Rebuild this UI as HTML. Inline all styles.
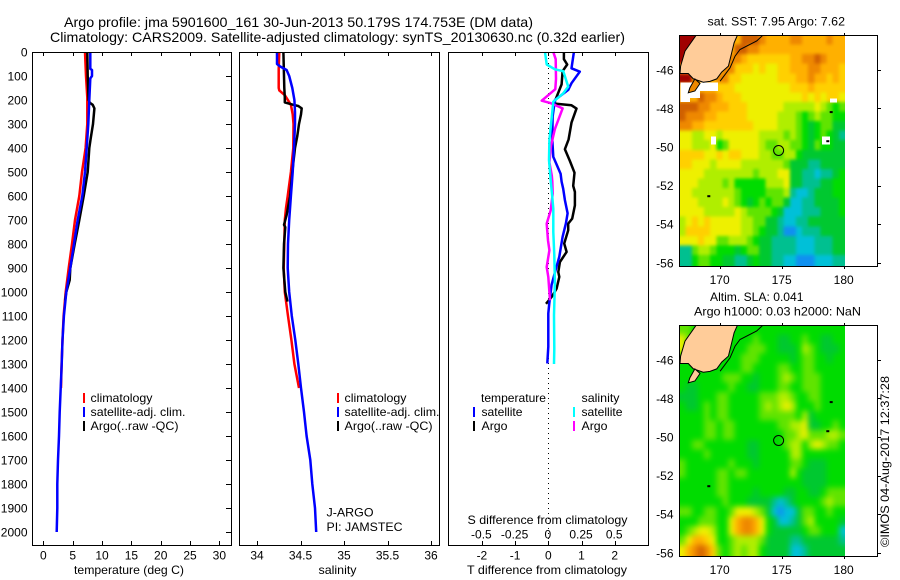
<!DOCTYPE html>
<html lang="en">
<head>
<meta charset="utf-8">
<title>Argo profile 5901600_161</title>
<style>
html,body{margin:0;padding:0;background:#fff;}
svg{display:block;}
text{font-family:"Liberation Sans",sans-serif;font-size:12px;fill:#000;}
</style>
</head>
<body>
<svg id="chart" xmlns="http://www.w3.org/2000/svg" width="900" height="580" viewBox="0 0 900 580">
  <defs>
    <clipPath id="map-clip-top"><rect x="679.5" y="35.5" width="165.5" height="231"/></clipPath>
    <clipPath id="map-clip-bottom"><rect x="679.5" y="325.5" width="165.5" height="231"/></clipPath>
    <filter id="soft-sst" filterUnits="userSpaceOnUse" x="660" y="20" width="210" height="260" color-interpolation-filters="sRGB">
      <feGaussianBlur stdDeviation="1.5"/>
      <feComponentTransfer><feFuncA type="linear" slope="4"/></feComponentTransfer>
    </filter>
    <filter id="soft-sla" filterUnits="userSpaceOnUse" x="660" y="310" width="210" height="260" color-interpolation-filters="sRGB">
      <feGaussianBlur stdDeviation="3"/>
      <feComponentTransfer><feFuncA type="linear" slope="4"/></feComponentTransfer>
    </filter>
  </defs>
  <rect x="0" y="0" width="900" height="580" fill="#fff"/>
  <text x="64" y="27" font-size="14" style="font-size:14px" textLength="469" lengthAdjust="spacingAndGlyphs">Argo profile: jma 5901600_161 30-Jun-2013 50.179S 174.753E (DM data)</text>
  <text x="50" y="42" style="font-size:14px" textLength="575" lengthAdjust="spacingAndGlyphs">Climatology: CARS2009. Satellite-adjusted climatology: synTS_20130630.nc (0.32d earlier)</text>
  <text x="707.5" y="25.5" textLength="137.5" lengthAdjust="spacingAndGlyphs">sat. SST: 7.95 Argo: 7.62</text>
  <text x="710" y="301" textLength="93.5" lengthAdjust="spacingAndGlyphs">Altim. SLA: 0.041</text>
  <text x="694" y="315.5" textLength="167" lengthAdjust="spacingAndGlyphs">Argo h1000: 0.03 h2000: NaN</text>

  <text x="74" y="574" textLength="110" lengthAdjust="spacingAndGlyphs">temperature (deg C)</text>
  <text x="318.5" y="574" textLength="38" lengthAdjust="spacingAndGlyphs">salinity</text>
  <text x="467" y="574" textLength="160" lengthAdjust="spacingAndGlyphs">T difference from climatology</text>
  <text x="467.5" y="524" textLength="160" lengthAdjust="spacingAndGlyphs">S difference from climatology</text>

  <g>
    <rect x="83" y="393" width="2" height="10" fill="#f00"/>
    <text x="90.5" y="402" textLength="62" lengthAdjust="spacingAndGlyphs">climatology</text>
    <rect x="83" y="407" width="2" height="10" fill="#00f"/>
    <text x="90.5" y="416" textLength="95" lengthAdjust="spacingAndGlyphs">satellite-adj. clim.</text>
    <rect x="83" y="421" width="2" height="10" fill="#000"/>
    <text x="90.5" y="430" textLength="88" lengthAdjust="spacingAndGlyphs">Argo(..raw -QC)</text>
  </g>
  <g>
    <rect x="337" y="393" width="2" height="10" fill="#f00"/>
    <text x="344.5" y="402" textLength="62" lengthAdjust="spacingAndGlyphs">climatology</text>
    <rect x="337" y="407" width="2" height="10" fill="#00f"/>
    <text x="344.5" y="416" textLength="95" lengthAdjust="spacingAndGlyphs">satellite-adj. clim.</text>
    <rect x="337" y="421" width="2" height="10" fill="#000"/>
    <text x="344.5" y="430" textLength="88" lengthAdjust="spacingAndGlyphs">Argo(..raw -QC)</text>
  </g>
  <g>
    <text x="481" y="402" textLength="65" lengthAdjust="spacingAndGlyphs">temperature</text>
    <rect x="473" y="407" width="2" height="10" fill="#00f"/>
    <text x="481.5" y="416" textLength="41" lengthAdjust="spacingAndGlyphs">satellite</text>
    <rect x="473" y="421" width="2" height="10" fill="#000"/>
    <text x="481.5" y="430" textLength="26" lengthAdjust="spacingAndGlyphs">Argo</text>
    <text x="581.5" y="402" textLength="38" lengthAdjust="spacingAndGlyphs">salinity</text>
    <rect x="573" y="407" width="2" height="10" fill="#0ff"/>
    <text x="581.5" y="416" textLength="41" lengthAdjust="spacingAndGlyphs">satellite</text>
    <rect x="573" y="421" width="2" height="10" fill="#f0f"/>
    <text x="581.5" y="430" textLength="26" lengthAdjust="spacingAndGlyphs">Argo</text>
  </g>
  <text x="326.5" y="516.5" textLength="47" lengthAdjust="spacingAndGlyphs">J-ARGO</text>
  <text x="326.5" y="531" textLength="76" lengthAdjust="spacingAndGlyphs">PI: JAMSTEC</text>
  <text transform="translate(889,547) rotate(-90)" textLength="171" lengthAdjust="spacingAndGlyphs">©IMOS 04-Aug-2017 12:37:28</text>
</svg>
<script>
/* ---------- profile data (depth in dbar) ---------- */
const tempTicks = [0,5,10,15,20,25,30];
const salTicks = [34,34.5,35,35.5,36];
const salTickLabels = ['34','34.5','35','35.5','36'];
const depthTicks = [0,100,200,300,400,500,600,700,800,900,1000,1100,1200,1300,1400,1500,1600,1700,1800,1900,2000];
const tDiffTicks = [-2,-1,0,1,2];
const sDiffTicks = [-0.5,-0.25,0,0.25,0.5];
const sDiffTickLabels = ['-0.5','-0.25','0','0.25','0.5'];

const climTempDepth = [0,100,190,300,400,500,600,700,800,900,1000,1100,1200,1300,1400];
const climTemp = [7.09,7.26,7.49,7.49,7.2,6.58,6.12,5.39,4.88,4.31,3.8,3.45,3.25,3.1,3.0];
const satTempDepth = [0,70,75,100,110,200,300,400,500,600,700,800,900,1000,1100,1200,1300,1400,1500,1600,1700,1800,1900,2000];
const satTemp = [8.0,8.0,8.28,8.28,8.0,7.83,7.66,7.38,7.09,6.63,5.85,5.22,4.59,3.9,3.5,3.25,3.12,2.95,2.78,2.66,2.49,2.37,2.37,2.27];
const argoTempDepth = [0,100,200,212,220,235,300,360,400,500,600,700,800,900,950,1000,1035];
const argoTemp = [7.49,7.55,7.7,7.95,8.4,8.7,8.46,8.06,7.83,7.55,6.87,6.12,5.34,4.59,4.48,3.9,3.7];

const climSalDepth = [0,70,150,160,180,220,260,300,400,500,600,650,700,800,900,1000,1100,1200,1300,1400];
const climSal = [34.256,34.249,34.249,34.256,34.32,34.39,34.41,34.42,34.417,34.39,34.353,34.333,34.32,34.314,34.307,34.32,34.356,34.395,34.43,34.483];
const satSalDepth = [0,50,60,75,100,150,200,250,300,400,500,600,700,800,900,1000,1100,1200,1300,1400,1500,1600,1700,1800,1900,2000];
const satSal = [34.23,34.23,34.264,34.34,34.37,34.406,34.43,34.437,34.437,34.425,34.41,34.39,34.37,34.356,34.353,34.37,34.4,34.44,34.475,34.506,34.54,34.57,34.613,34.636,34.667,34.68];
const argoSalDepth = [0,150,190,210,220,225,235,260,300,350,400,500,600,680,720,730,800,900,1000,1040];
const argoSal = [34.303,34.314,34.32,34.32,34.417,34.475,34.514,34.506,34.483,34.463,34.437,34.406,34.38,34.34,34.31,34.325,34.31,34.303,34.325,34.35];

const satTDiffDepth = [0,68,82,130,158,200,270,367,437,507,540,570,617,672,714,770,853,908,970,1047,1089,1228,1298];
const satTDiff = [0.77,0.7,0.95,0.7,0.6,0.2,0.13,0.12,0.15,0.37,0.4,0.45,0.5,0.58,0.53,0.43,0.33,0.22,0.1,0.03,0,0,-0.03];
const argoTDiffDepth = [0,30,52,80,135,205,215,222,236,294,364,405,454,503,558,583,639,694,715,743,798,833,875,917,937,986,1021,1049];
const argoTDiff = [0.47,0.47,0.57,0.43,0.4,0.2,0.2,0.7,0.85,0.7,0.61,0.5,0.65,0.79,0.75,0.8,0.8,0.72,0.6,0.6,0.48,0.55,0.35,0.3,0.33,0.25,0.1,-0.07];
const satSDiffDepth = [0,52,72,80,144,172,207,270,367,450,535,583,653,750,847,958,1097,1236,1300];
const satSDiff = [-0.025,-0.012,0.05,0.113,0.15,0.113,0.038,0.026,0.008,0.005,0.018,0.026,0.038,0.038,0.045,0.05,0.043,0.045,0.043];
const argoSDiffDepth = [0,30,113,155,203,212,235,321,390,460,515,540,590,660,715,785,826,896,937,1035];
const argoSDiff = [0.038,0.056,0.058,0.053,-0.05,0.013,0.108,0.05,0.02,0.008,0.026,0.03,0.033,0.018,-0.012,-0.002,0.008,-0.012,0,0.013];

/* ---------- map data: colour-scale level per half-degree cell ---------- */
const mapLonTicks = [170,175,180];
const mapLatTicks = [46,48,50,52,54,56];
const sstRows = [
[12,12,12,9,9,9,9,9,9,9,11,11,11,10,9,9,9,9,10,10,9,9,9,9,10,9,9],
[12,12,9,9,9,9,9,9,9,11,11,10,10,9,9,9,9,9,9,9,9,9,9,9,9,9,9],
[12,9,9,9,9,9,9,9,10,10,9,8,8,8,8,8,8,8,9,9,10,10,11,10,9,9,9],
[9,9,9,9,9,9,9,10,10,8,8,8,7,8,7,7,8,8,9,9,9,10,10,9,9,9,8],
[12,12,9,9,9,9,10,10,8,8,7,7,7,7,7,7,8,8,8,9,9,10,9,9,8,9,8],
[9,9,9,9,9,9,8,8,8,7,7,7,7,7,7,7,7,7,8,8,8,9,8,8,8,8,8],
[9,9,9,11,10,10,9,8,8,8,7,7,7,7,7,7,7,7,7,7,8,7,8,7,8,8,7],
[11,11,11,10,10,9,9,9,8,8,8,7,7,7,7,7,7,6,6,6,6,6,7,6,5,4,5],
[11,10,10,10,9,9,8,8,8,8,8,7,7,7,7,7,6,6,6,5,4,5,6,5,5,4,4],
[10,10,9,9,8,8,8,8,8,8,8,8,7,7,7,7,6,6,6,5,4,3,4,5,5,3,3],
[7,7,6,6,7,7,6,7,7,7,7,7,7,6,6,6,6,5,6,5,4,3,4,5,4,3,2],
[7,7,6,6,6,7,4,5,7,7,7,7,7,6,5,5,6,6,5,5,4,3,5,4,4,3,3],
[8,8,8,8,7,7,8,7,8,8,7,7,7,6,6,5,5,6,6,4,3,3,3,3,3,3,3],
[8,8,7,7,7,6,7,7,7,7,6,6,6,6,6,6,6,5,3,3,3,2,2,3,3,3,3],
[7,7,7,7,6,6,6,6,6,6,6,6,5,6,6,6,7,7,3,3,2,2,1,2,2,3,4],
[7,7,7,6,6,6,6,5,6,4,4,4,4,4,6,6,6,7,3,3,2,2,2,3,3,4,4],
[7,7,6,6,6,6,6,6,6,5,4,4,4,4,5,5,5,6,2,1,1,2,3,3,3,4,4],
[7,7,7,6,6,6,6,7,6,5,4,3,4,5,4,5,5,3,1,1,2,2,3,3,3,3,4],
[7,7,7,7,6,6,6,6,6,7,6,5,5,5,5,4,3,1,1,1,2,2,2,3,3,3,4],
[6,7,8,7,8,7,7,7,7,7,6,6,5,5,3,3,2,1,1,2,2,3,3,3,3,3,3],
[6,8,8,8,8,7,7,7,7,7,6,6,5,4,3,3,2,0,0,1,2,2,2,3,3,3,3],
[7,7,7,8,7,7,5,5,6,6,6,5,4,3,3,2,2,2,2,1,1,1,2,2,2,3,3],
[2,2,5,6,6,5,4,4,4,3,4,5,5,3,3,2,2,2,2,1,1,1,2,2,2,3,3],
[2,2,4,5,5,4,4,3,3,2,2,3,4,3,3,2,2,1,1,0,0,0,1,1,1,2,2]
];
const slaRows = [
[5,5,4,4,4,4,4,4,4,4,4,4,4,4,4,4,4,4,4,4,4,4,4,4,4,4,4],
[7,5,4,4,4,4,4,4,4,4,4,4,5,4,4,4,3,3,4,4,5,4,4,3,3,4,4],
[7,5,4,4,4,4,4,4,4,4,4,5,5,5,4,4,3,3,3,4,6,5,4,3,3,3,4],
[4,4,4,4,4,4,4,4,4,4,5,5,5,4,4,4,4,4,3,4,5,5,4,4,3,4,4],
[4,4,4,4,4,4,4,4,4,4,5,5,4,4,4,4,5,5,4,4,5,5,4,4,4,4,4],
[4,4,4,4,4,4,4,5,5,5,4,4,3,4,4,4,5,6,5,4,5,5,5,4,4,4,4],
[4,3,3,4,4,4,4,4,5,4,4,3,3,4,4,4,5,5,4,4,5,5,5,4,4,4,4],
[3,3,3,4,4,4,5,5,4,4,4,4,4,5,5,5,6,6,5,4,4,5,5,4,4,4,4],
[4,3,3,4,5,4,5,5,4,4,4,4,4,5,6,5,6,7,6,4,4,4,5,4,4,4,4],
[4,4,4,4,5,4,5,5,4,4,4,4,4,5,5,5,5,5,5,4,6,3,4,4,4,4,4],
[4,4,4,4,5,5,4,5,5,4,4,4,4,4,4,4,5,5,6,6,7,3,3,4,4,5,4],
[4,4,4,4,5,5,4,5,5,4,4,4,4,4,4,4,4,5,5,6,7,5,5,5,6,6,5],
[4,4,5,5,4,4,4,4,4,4,4,3,3,4,4,4,4,5,6,6,4,6,7,6,5,5,4],
[4,4,4,4,5,4,4,4,4,4,4,3,3,4,4,4,4,4,6,6,4,4,4,4,4,4,4],
[5,4,4,4,4,4,4,4,5,4,4,4,3,4,4,4,4,4,5,5,4,3,3,3,4,4,4],
[5,4,4,4,4,4,5,5,4,5,5,4,4,4,4,4,4,4,6,4,3,3,3,3,4,4,4],
[4,4,4,4,4,4,5,5,4,4,4,4,4,4,4,4,4,4,4,4,3,3,3,3,4,4,4],
[4,4,4,4,4,4,5,5,4,4,4,4,3,4,4,4,4,3,3,4,4,3,3,4,5,5,5],
[4,4,4,4,4,4,4,5,4,4,4,3,3,3,3,2,1,2,3,4,4,4,4,5,6,5,5],
[5,5,4,4,5,5,4,4,5,7,7,7,6,5,3,1,0,1,1,3,5,5,4,4,5,4,4],
[4,4,4,5,5,5,4,4,7,9,10,10,9,7,4,3,1,1,2,3,5,6,4,4,4,4,3],
[4,5,6,7,7,6,4,4,7,9,10,10,9,7,4,3,3,3,3,3,4,5,5,4,4,4,1],
[5,7,9,9,8,7,4,4,5,6,6,6,6,5,3,3,3,3,2,2,3,3,3,3,3,3,2],
[7,9,10,11,10,8,5,4,5,6,5,6,6,4,3,3,3,3,1,1,2,3,3,3,3,3,3]
];
const levelColors = ['#1090f0','#00c0d8','#00c090','#00c830','#00dc00','#60e400','#b0ee00','#eef000','#ffd000','#ffb000','#ee8800','#d06000','#a00000'];
const missingLon = [169.3,178.25,178.9,166.85,166.85,166.85];
const missingLat = [49.46,49.46,47.49,46.67,47.11,47.46];
const missingLonSize = [0.4,0.65,0.56,3.0,1.56,0.75];
const missingLatSize = [0.41,0.41,0.21,0.44,0.35,0.22];
const landLon = [168.09,167.2,166.85,166.8,167.47,167.88,168.68,169.22,169.76,170.16,170.7,170.97,171.16,171.42];
const landLat = [44.19,45.03,45.81,46.19,46.19,46.47,46.64,46.6,46.47,46.12,45.81,45.12,44.6,44.19];
const stewartLon = [167.6,168.0,168.41,168.0,167.47];
const stewartLat = [46.93,46.47,46.71,47.1,47.19];
const shelfLon = [173.47,172.98,171.64,171.24,170.83,170.03];
const shelfLat = [44.22,44.51,44.95,45.29,45.9,46.59];
const islandLon = [169.16,178.76,179.03];
const islandLat = [52.55,49.7,48.19];
const profileLon = 174.753;
const profileLat = 50.179;

/* ---------- axis functions ---------- */
const svgNS = 'http://www.w3.org/2000/svg';
const root = document.getElementById('chart');
function yDepth(d){ return 52 + 0.24*d; }
function xTemp(t){ return 43.4 + 5.865*t; }
function xSal(s){ return 257 + 87*(s-34); }
function xTDiff(t){ return 548.3 + 33.2*t; }
function xSDiff(s){ return 548.3 + 132.8*s; }
function xLon(lon){ return 719.7 + 12.4*(lon-170); }
function yLat(lat,top){ return top + 34.8 + 19.3*(lat-46); }

function make(tag, parent){
  const el = document.createElementNS(svgNS, tag);
  parent.appendChild(el);
  return el;
}
function addGroup(name, parent){
  const g = make('g', parent);
  
  
  return g;
}
function addLabel(parent, name, str, x, y, anchor){
  const t = make('text', parent);
  
  
  t.setAttribute('x', x);
  t.setAttribute('y', y);
  t.setAttribute('text-anchor', anchor);
  t.textContent = str;
  return t;
}
function addTick(parent, name, x1, y1, x2, y2){
  const l = make('line', parent);
  
  
  l.setAttribute('x1', x1);
  l.setAttribute('y1', y1);
  l.setAttribute('x2', x2);
  l.setAttribute('y2', y2);
  l.setAttribute('stroke', '#000');
  l.setAttribute('shape-rendering', 'crispEdges');
}
function addBox(parent, name, x, y, w, h){
  const r = make('rect', parent);
  
  
  r.setAttribute('x', x);
  r.setAttribute('y', y);
  r.setAttribute('width', w);
  r.setAttribute('height', h);
  r.setAttribute('fill', 'none');
  r.setAttribute('stroke', '#000');
  r.setAttribute('shape-rendering', 'crispEdges');
}
function addSeries(parent, name, depths, values, xFn, color){
  const p = make('polyline', parent);
  
  
  p.setAttribute('points', depths.map(function(d,i){ return xFn(values[i]).toFixed(1)+','+yDepth(d).toFixed(1); }).join(' '));
  p.setAttribute('fill', 'none');
  p.setAttribute('stroke', color);
  p.setAttribute('stroke-width', '2.5');
  p.setAttribute('stroke-linejoin', 'round');
}

/* ---------- temperature panel ---------- */
const panelT = addGroup('temperature-panel', root);
addSeries(panelT, 'temperature-climatology-line', climTempDepth, climTemp, xTemp, '#f00');
addSeries(panelT, 'temperature-argo-line', argoTempDepth, argoTemp, xTemp, '#000');
addSeries(panelT, 'temperature-satellite-line', satTempDepth, satTemp, xTemp, '#00f');
addBox(panelT, 'temperature-axes-frame', 32.5, 52.5, 199, 493);
tempTicks.forEach(function(v){
  const x = Math.round(xTemp(v))+0.5;
  addTick(panelT, 'temperature-tick-top', x, 52, x, 56);
  addTick(panelT, 'temperature-tick-bottom', x, 541, x, 545);
  addLabel(panelT, 'temperature-tick-label', String(v), xTemp(v), 559.5, 'middle');
});
depthTicks.forEach(function(v){
  const y = Math.round(yDepth(v))+0.5;
  addTick(panelT, 'depth-tick', 226, y, 231, y);
  addLabel(panelT, 'depth-tick-label', String(v), 27.5, yDepth(v)+4.5, 'end');
});

/* ---------- salinity panel ---------- */
const panelS = addGroup('salinity-panel', root);
addSeries(panelS, 'salinity-climatology-line', climSalDepth, climSal, xSal, '#f00');
addSeries(panelS, 'salinity-argo-line', argoSalDepth, argoSal, xSal, '#000');
addSeries(panelS, 'salinity-satellite-line', satSalDepth, satSal, xSal, '#00f');
addBox(panelS, 'salinity-axes-frame', 239.5, 52.5, 200, 493);
salTicks.forEach(function(v,i){
  const x = Math.round(xSal(v))+0.5;
  addTick(panelS, 'salinity-tick-top', x, 52, x, 56);
  addTick(panelS, 'salinity-tick-bottom', x, 541, x, 545);
  addLabel(panelS, 'salinity-tick-label', salTickLabels[i], xSal(v), 559.5, 'middle');
});

/* ---------- difference panel ---------- */
const panelD = addGroup('difference-panel', root);
const zeroLine = make('line', panelD);


zeroLine.setAttribute('x1', 548.5);
zeroLine.setAttribute('y1', 53);
zeroLine.setAttribute('x2', 548.5);
zeroLine.setAttribute('y2', 545);
zeroLine.setAttribute('stroke', '#000');
zeroLine.setAttribute('stroke-dasharray', '1 4');
zeroLine.setAttribute('shape-rendering', 'crispEdges');
addSeries(panelD, 'difference-t-argo-line', argoTDiffDepth, argoTDiff, xTDiff, '#000');
addSeries(panelD, 'difference-t-satellite-line', satTDiffDepth, satTDiff, xTDiff, '#00f');
addSeries(panelD, 'difference-s-argo-line', argoSDiffDepth, argoSDiff, xSDiff, '#f0f');
addSeries(panelD, 'difference-s-satellite-line', satSDiffDepth, satSDiff, xSDiff, '#0ff');
addBox(panelD, 'difference-axes-frame', 448.5, 52.5, 200, 493);
tDiffTicks.forEach(function(v){
  const x = Math.round(xTDiff(v))+0.5;
  addTick(panelD, 'difference-tick-top', x, 52, x, 56);
  addTick(panelD, 'difference-tick-bottom', x, 541, x, 545);
  addLabel(panelD, 't-difference-tick-label', String(v), xTDiff(v), 559.5, 'middle');
});
sDiffTicks.forEach(function(v,i){
  addLabel(panelD, 's-difference-tick-label', sDiffTickLabels[i], xSDiff(v)-0.5, 538.5, 'middle');
});

/* ---------- maps ---------- */
const dLon = 0.494;
const dLat = 0.4955;
const lonStart = 166.76;
const latStart = 44.197;
function drawMap(name, rows, top, stewartFill, clipId, filterId, showMissing){
  const g = addGroup(name, root);
  const clip = addGroup(name+'-data-area', g);
  clip.setAttribute('clip-path', 'url(#'+clipId+')');
  const field = addGroup(name+'-cells', clip);
  field.setAttribute('filter', 'url(#'+filterId+')');
  rows.forEach(function(row,j){
    row.forEach(function(level,i){
      if(level === null) return;
      const x0 = xLon(lonStart + i*dLon);
      const x1 = xLon(lonStart + (i+1)*dLon);
      const y0 = yLat(latStart + j*dLat, top);
      const y1 = yLat(latStart + (j+1)*dLat, top);
      const c = make('rect', field);
      
      
      c.setAttribute('x', x0.toFixed(2));
      c.setAttribute('y', y0.toFixed(2));
      c.setAttribute('width', (x1-x0+0.3).toFixed(2));
      c.setAttribute('height', (y1-y0+0.3).toFixed(2));
      c.setAttribute('fill', levelColors[level]);
      c.setAttribute('shape-rendering', 'crispEdges');
    });
  });
  if(showMissing){
    missingLon.forEach(function(v,i){
      const hole = make('rect', clip);
      
      
      hole.setAttribute('x', xLon(v).toFixed(1));
      hole.setAttribute('y', yLat(missingLat[i],top).toFixed(1));
      hole.setAttribute('width', (missingLonSize[i]*12.4).toFixed(1));
      hole.setAttribute('height', (missingLatSize[i]*19.3).toFixed(1));
      hole.setAttribute('fill', '#fff');
      hole.setAttribute('shape-rendering', 'crispEdges');
    });
  }
  const land = make('polygon', clip);
  
  
  land.setAttribute('points', landLon.map(function(v,i){ return xLon(v).toFixed(1)+','+Math.max(yLat(landLat[i],top),top+0.5).toFixed(1); }).join(' '));
  land.setAttribute('fill', '#ffcc99');
  land.setAttribute('stroke', '#000');
  const stew = make('polygon', clip);
  
  
  stew.setAttribute('points', stewartLon.map(function(v,i){ return xLon(v).toFixed(1)+','+yLat(stewartLat[i],top).toFixed(1); }).join(' '));
  stew.setAttribute('fill', stewartFill);
  stew.setAttribute('stroke', '#000');
  const shelf = make('polyline', clip);
  
  
  shelf.setAttribute('points', shelfLon.map(function(v,i){ return xLon(v).toFixed(1)+','+yLat(shelfLat[i],top).toFixed(1); }).join(' '));
  shelf.setAttribute('fill', 'none');
  shelf.setAttribute('stroke', '#000');
  islandLon.forEach(function(v,i){
    const dot = make('rect', g);
    
    
    dot.setAttribute('x', (xLon(v)-2).toFixed(1));
    dot.setAttribute('y', (yLat(islandLat[i],top)-1).toFixed(1));
    dot.setAttribute('width', 3);
    dot.setAttribute('height', 2);
    dot.setAttribute('fill', '#000');
  });
  const mark = make('circle', g);
  
  
  mark.setAttribute('cx', xLon(profileLon).toFixed(1));
  mark.setAttribute('cy', yLat(profileLat,top).toFixed(1));
  mark.setAttribute('r', 5);
  mark.setAttribute('fill', 'none');
  mark.setAttribute('stroke', '#000');
  addBox(g, name+'-frame', 679.5, top+0.5, 198, 231);
  const bottom = top + 231;
  mapLonTicks.forEach(function(v){
    const x = Math.round(xLon(v))+0.5;
    addTick(g, 'map-longitude-tick-top', x, top-2, x, top);
    addTick(g, 'map-longitude-tick-bottom', x, bottom, x, bottom+3);
    addLabel(g, 'map-longitude-label', String(v), xLon(v), bottom+18, 'middle');
  });
  mapLatTicks.forEach(function(v){
    const y = Math.round(yLat(v,top))+0.5;
    addTick(g, 'map-latitude-tick', 878, y, 881, y);
    addLabel(g, 'map-latitude-label', '-'+v, 673.5, yLat(v,top)+4.5, 'end');
  });
  return g;
}
drawMap('sst-map', sstRows, 35, '#ee8800', 'map-clip-top', 'soft-sst', true);
drawMap('sla-map', slaRows, 325, '#ffcc99', 'map-clip-bottom', 'soft-sla', false);
</script>
</body>
</html>
